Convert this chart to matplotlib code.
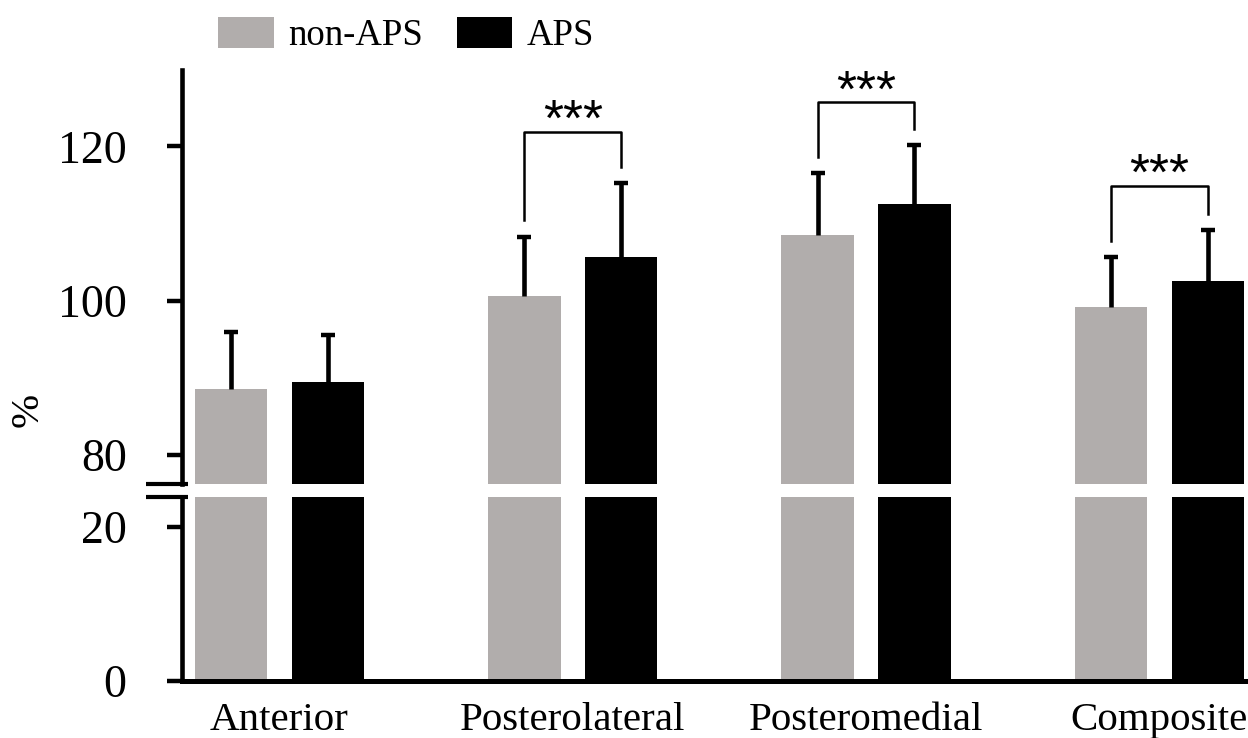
import numpy as np
import matplotlib
matplotlib.use("Agg")
import matplotlib.pyplot as plt

# data
categories = ['Anterior', 'Posterolateral', 'Posteromedial', 'Composite']
non_aps = [88.6, 100.6, 108.5, 99.2]
non_aps_sd = [7.4, 7.7, 8.0, 6.5]
aps = [89.5, 105.7, 112.5, 102.6]
aps_sd = [6.1, 9.5, 7.7, 6.6]
signif = [None, '***', '***', '***']
bracket_gap = [0, 6.7, 5.5, 5.7]   # bracket height above the taller error bar

plt.rcParams['font.family'] = ['Liberation Serif', 'DejaVu Serif']

W, H = 1248, 738
fig = plt.figure(figsize=(W / 100, H / 100), dpi=100)

# broken y axis: two stacked axes sharing x
left = 182 / W
ax_top = fig.add_axes([left, 1 - 484 / H, 1 - left, (484 - 70) / H])
ax_bot = fig.add_axes([left, 1 - 681 / H, 1 - left, (681 - 497) / H], sharex=ax_top)

x = np.arange(len(categories))
off = 0.165
bw = 0.247
gray = '#b1adac'

for ax in (ax_top, ax_bot):
    b1 = ax.bar(x - off, non_aps, bw, color=gray, label='non-APS')
    b2 = ax.bar(x + off, aps, bw, color='black', label='APS')
    for s in ('top', 'right'):
        ax.spines[s].set_visible(False)
    ax.spines['left'].set_linewidth(3.3)
    ax.tick_params(axis='y', length=10.8, width=3.2, pad=29, labelsize=33)
    ax.set_xlim(-0.332, 3.302)

# upward-only error bars with a single cap on top
for xs, m, sd in ((x - off, non_aps, non_aps_sd), (x + off, aps, aps_sd)):
    m = np.array(m)
    sd = np.array(sd)
    ax_top.errorbar(xs, m, yerr=[np.zeros(len(m)), sd], fmt='none',
                    ecolor='black', elinewidth=3.3, capsize=0)
    ax_top.plot(xs, m + sd, linestyle='none', marker='_', markersize=10.5,
                markeredgewidth=3.2, color='black')

ax_top.set_ylim(76.24, 129.9)
ax_top.set_yticks([80, 100, 120])
ax_top.spines['bottom'].set_visible(False)
ax_top.tick_params(axis='x', bottom=False, labelbottom=False)

ax_bot.set_ylim(0, 23.9)
ax_bot.set_yticks([0, 20])
ax_bot.spines['bottom'].set_linewidth(3.6)
ax_bot.set_xticks(x)
ax_bot.set_xticklabels(categories, fontsize=29.5)
ax_bot.tick_params(axis='x', length=0, pad=15)

# break marks on the y axis
kw = dict(color='black', lw=3, clip_on=False, solid_capstyle='butt')
ax_top.plot([-0.034, 0.006], [0, 0], transform=ax_top.transAxes, **kw)
ax_bot.plot([-0.034, 0.006], [1, 1], transform=ax_bot.transAxes, **kw)

# significance brackets
for i, lab in enumerate(signif):
    if lab is None:
        continue
    t1 = non_aps[i] + non_aps_sd[i]
    t2 = aps[i] + aps_sd[i]
    top = max(t1, t2) + bracket_gap[i]
    ax_top.plot([x[i] - off, x[i] - off, x[i] + off, x[i] + off],
                [t1 + 2.1, top, top, t2 + 2.1], color='black', lw=1.8)
    ax_top.text(x[i], top - 0.5, lab, ha='center', va='baseline', fontsize=37,
                family=['Liberation Sans', 'DejaVu Sans'])

fig.text(28 / W, 1 - 410 / H, '%', rotation=90, ha='center', va='center', fontsize=29.5)

fig.legend(handles=[b1, b2], labels=['non-APS', 'APS'], ncol=2, frameon=False,
           loc='center left', bbox_to_anchor=(218 / W, 1 - 35 / H), fontsize=26.5,
           handlelength=1.52, handleheight=0.95, handletextpad=0.38, columnspacing=0.92,
           borderpad=0, borderaxespad=0)

fig.savefig('out.png', dpi=100)
